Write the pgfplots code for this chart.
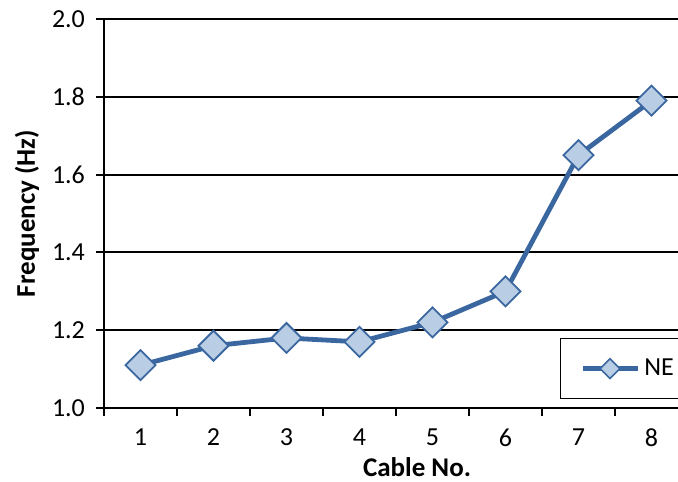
\documentclass[border=0pt]{standalone}
\usepackage{pgfplots}
\pgfplotsset{compat=1.18}
\usepackage{fontspec}
\setmainfont{Carlito}
\definecolor{lineblue}{HTML}{3B67A0}
\definecolor{fillblue}{HTML}{B9CDE5}
\begin{document}
\begin{tikzpicture}
\begin{axis}[
  scale only axis,
  width=292pt, height=194.5pt,
  xmin=0.5, xmax=8.5, ymin=1.0, ymax=2.0,
  axis x line*=bottom, axis y line*=left,
  axis line style={line width=1pt, -},
  xtick={1,...,8},
  minor xtick={0.5,1.5,...,8.5},
  major x tick style={draw=none},
  minor x tick style={line width=1pt, black},
  ytick={1.0,1.2,...,2.0},
  y tick style={line width=1pt, black},
  tick align=outside,
  major tick length=4pt, minor tick length=4pt,
  ymajorgrids,
  grid style={line width=1pt, black},
  /pgf/number format/assume math mode=true,
  yticklabel style={/pgf/number format/fixed, /pgf/number format/fixed zerofill, /pgf/number format/precision=1},
  tick label style={font=\fontsize{13}{15}\selectfont},
  yticklabel style={xshift=-2pt},
  xticklabel style={yshift=-3pt},
  clip=false,
  legend style={at={(rel axis cs:0.781,0.023)}, anchor=south west, draw=black, line width=0.6pt,
    font=\fontsize{13}{15}\selectfont, inner xsep=10pt, inner ysep=8pt},
  legend cell align=left,
  legend image code/.code={
    \draw[lineblue, line width=2.3pt] (0pt,0pt) -- (27.5pt,0pt);
    \draw[mark=square*, mark size=3.5pt, mark options={rotate=45, fill=fillblue, draw=lineblue, line width=0.8pt}] plot coordinates {(13.5pt,0pt)};
  },
]
\addplot[lineblue, line width=2.4pt, mark=square*, mark size=5.3pt,
  mark options={rotate=45, fill=fillblue, draw=lineblue, line width=0.9pt}]
  coordinates {(1,1.11) (2,1.16) (3,1.18) (4,1.17) (5,1.22) (6,1.30) (7,1.65) (8,1.79)};
\addlegendentry{NE}
\coordinate (o) at (rel axis cs:0,0);
\end{axis}
\node[font=\bfseries\fontsize{13.5}{15}\selectfont] at ([shift={(156.5pt,-29.5pt)}]o) {Cable No.};
\node[font=\bfseries\fontsize{13.5}{15}\selectfont, rotate=90] at ([shift={(-38.5pt,97.25pt)}]o) {Frequency (Hz)};
\pgfresetboundingbox
\useasboundingbox ([shift={(-52pt,-36.5pt)}]o) rectangle ++(339pt,240.5pt);
\end{tikzpicture}
\end{document}
